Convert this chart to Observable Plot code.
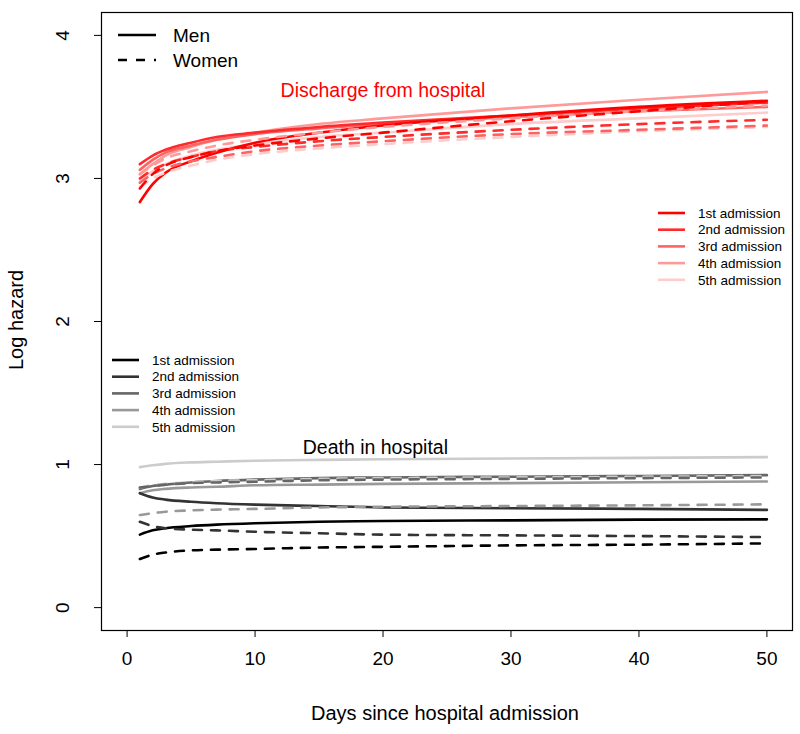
<!DOCTYPE html>
<html>
<head>
<meta charset="utf-8">
<script src="https://cdn.jsdelivr.net/npm/d3@7"></script>
<script src="https://cdn.jsdelivr.net/npm/@observablehq/plot@0.6"></script>
<style>
  body { margin: 0; background: #fff; font-family: "Liberation Sans", Arial, sans-serif; }
</style>
</head>
<body>
<div id="chart"></div>
<script>
// ---- data ----
const days = [1, 2, 3, 5, 7, 10, 15, 20, 30, 40, 50];
const admissions = ["1st admission", "2nd admission", "3rd admission", "4th admission", "5th admission"];
const redColors = ["#ff0000", "#ff2a2a", "#ff6262", "#ff9a9a", "#ffcccc"];
const greyColors = ["#000000", "#333333", "#666666", "#999999", "#cccccc"];
const xTicks = [0, 10, 20, 30, 40, 50];
const yTicks = [0, 1, 2, 3, 4];

// Discharge from hospital — men (solid)
const dischargeMen1 = [2.835, 2.96, 3.04, 3.12, 3.18, 3.25, 3.32, 3.37, 3.44, 3.50, 3.543];
const dischargeMen2 = [3.10, 3.16, 3.20, 3.25, 3.29, 3.32, 3.36, 3.39, 3.44, 3.49, 3.53];
const dischargeMen3 = [3.06, 3.13, 3.18, 3.23, 3.27, 3.31, 3.35, 3.38, 3.43, 3.47, 3.50];
const dischargeMen4 = [3.03, 3.10, 3.16, 3.22, 3.27, 3.32, 3.38, 3.42, 3.49, 3.55, 3.605];
const dischargeMen5 = [2.98, 3.05, 3.10, 3.16, 3.20, 3.24, 3.29, 3.32, 3.38, 3.42, 3.46];
// Discharge from hospital — women (dashed)
const dischargeWomen1 = [2.93, 3.03, 3.09, 3.15, 3.19, 3.23, 3.28, 3.32, 3.40, 3.47, 3.54];
const dischargeWomen2 = [3.00, 3.06, 3.10, 3.15, 3.19, 3.22, 3.26, 3.29, 3.34, 3.38, 3.41];
const dischargeWomen3 = [2.97, 3.03, 3.07, 3.12, 3.15, 3.19, 3.23, 3.26, 3.31, 3.34, 3.37];
const dischargeWomen4 = [3.03, 3.09, 3.14, 3.19, 3.23, 3.27, 3.32, 3.36, 3.42, 3.47, 3.51];
const dischargeWomen5 = [2.94, 3.00, 3.04, 3.09, 3.13, 3.17, 3.21, 3.24, 3.29, 3.33, 3.36];

// Death in hospital — men (solid)
const deathMen1 = [0.51, 0.54, 0.555, 0.57, 0.58, 0.59, 0.60, 0.605, 0.61, 0.615, 0.617];
const deathMen2 = [0.80, 0.77, 0.755, 0.74, 0.73, 0.72, 0.71, 0.70, 0.695, 0.69, 0.683];
const deathMen3 = [0.83, 0.85, 0.86, 0.875, 0.885, 0.895, 0.905, 0.91, 0.915, 0.92, 0.926];
const deathMen4 = [0.80, 0.82, 0.83, 0.84, 0.845, 0.855, 0.86, 0.865, 0.87, 0.876, 0.882];
const deathMen5 = [0.982, 0.995, 1.005, 1.015, 1.02, 1.027, 1.033, 1.037, 1.042, 1.047, 1.052];
// Death in hospital — women (dashed)
const deathWomen1 = [0.34, 0.37, 0.385, 0.40, 0.405, 0.41, 0.42, 0.425, 0.435, 0.44, 0.449];
const deathWomen2 = [0.60, 0.57, 0.555, 0.545, 0.54, 0.53, 0.52, 0.51, 0.505, 0.50, 0.493];
const deathWomen3 = [0.84, 0.85, 0.86, 0.87, 0.875, 0.88, 0.89, 0.895, 0.90, 0.905, 0.91];
const deathWomen4 = [0.647, 0.66, 0.67, 0.68, 0.685, 0.69, 0.70, 0.705, 0.71, 0.715, 0.722];
const deathWomen5 = [0.84, 0.855, 0.865, 0.875, 0.885, 0.89, 0.90, 0.905, 0.91, 0.915, 0.92];

// ---- build tidy rows ----
const series = [
  {outcome: "discharge", sex: "Men", vals: [dischargeMen1, dischargeMen2, dischargeMen3, dischargeMen4, dischargeMen5]},
  {outcome: "discharge", sex: "Women", vals: [dischargeWomen1, dischargeWomen2, dischargeWomen3, dischargeWomen4, dischargeWomen5]},
  {outcome: "death", sex: "Men", vals: [deathMen1, deathMen2, deathMen3, deathMen4, deathMen5]},
  {outcome: "death", sex: "Women", vals: [deathWomen1, deathWomen2, deathWomen3, deathWomen4, deathWomen5]}
];
const rows = [];
for (const s of series) {
  s.vals.forEach((arr, k) => {
    arr.forEach((v, i) => rows.push({
      day: days[i], value: v, outcome: s.outcome, sex: s.sex, adm: k,
      key: s.outcome + "-" + s.sex + "-" + k,
      color: (s.outcome === "discharge" ? redColors : greyColors)[k]
    }));
  });
}
// draw lighter first so darker lines on top
const order = (sex) => rows.filter(r => r.sex === sex).sort((a, b) => b.adm - a.adm);

const fontFam = "Liberation Sans, Arial, Helvetica, sans-serif";

const plot = Plot.plot({
  width: 800,
  height: 734,
  marginLeft: 101,
  marginRight: 8,
  marginTop: 12,
  marginBottom: 104,
  style: {fontFamily: fontFam, background: "#fff"},
  x: {domain: [-2, 52]},
  y: {domain: [-0.16, 4.16]},
  marks: [
    Plot.line(order("Men"), {x: "day", y: "value", z: "key", stroke: "color", strokeWidth: 2.6, curve: "monotone-x"}),
    Plot.line(order("Women"), {x: "day", y: "value", z: "key", stroke: "color", strokeWidth: 2.6, strokeDasharray: "9,9", curve: "monotone-x"}),
    Plot.axisX(xTicks, {tickSize: 7, tickPadding: 14, fontSize: 19, label: null, tickFormat: d => String(d), stroke: "#000", color: "#000"}),
    Plot.axisY(yTicks, {tickSize: 7, tickPadding: 26, fontSize: 19, label: null, tickFormat: d => String(d), tickRotate: -90, textAnchor: "middle", stroke: "#000", color: "#000"}),
    Plot.text(["Discharge from hospital"], {x: 20, y: 3.61, text: d => d, fill: "#ff0000", fontSize: 19.5}),
    Plot.text(["Death in hospital"], {x: 19.4, y: 1.115, text: d => d, fill: "#000", fontSize: 19.5}),
    Plot.frame({stroke: "#000", strokeWidth: 1.2})
  ]
});
document.getElementById("chart").appendChild(plot);

// ---- axis titles and legends ----
const svg = d3.select(plot);
svg.append("text").attr("x", 445).attr("y", 720).attr("text-anchor", "middle")
  .attr("font-size", 20).attr("font-family", fontFam).attr("fill", "#000")
  .text("Days since hospital admission");
svg.append("text").attr("transform", "translate(23,320) rotate(-90)").attr("text-anchor", "middle")
  .attr("font-size", 20).attr("font-family", fontFam).attr("fill", "#000")
  .text("Log hazard");

// Men / Women legend
const sexLeg = svg.append("g");
[["Men", null, 35], ["Women", "9,9", 60]].forEach(([lab, dash, y]) => {
  sexLeg.append("line").attr("x1", 118).attr("x2", 156).attr("y1", y).attr("y2", y)
    .attr("stroke", "#000").attr("stroke-width", 2.6).attr("stroke-dasharray", dash);
  sexLeg.append("text").attr("x", 173).attr("y", y).attr("dy", "0.35em").attr("text-anchor", "start")
    .attr("font-size", 19).attr("font-family", fontFam).attr("fill", "#000").text(lab);
});

function admLegend(x0, y0, colors) {
  const g = svg.append("g");
  admissions.forEach((lab, i) => {
    const y = y0 + i * 16.7;
    g.append("line").attr("x1", x0).attr("x2", x0 + 27).attr("y1", y).attr("y2", y)
      .attr("stroke", colors[i]).attr("stroke-width", 2.6);
    g.append("text").attr("x", x0 + 40).attr("y", y).attr("dy", "0.35em").attr("text-anchor", "start")
      .attr("font-size", 13.5).attr("font-family", fontFam).attr("fill", "#000").text(lab);
  });
}
admLegend(658, 213, redColors);
admLegend(112, 360, greyColors);
</script>
</body>
</html>
